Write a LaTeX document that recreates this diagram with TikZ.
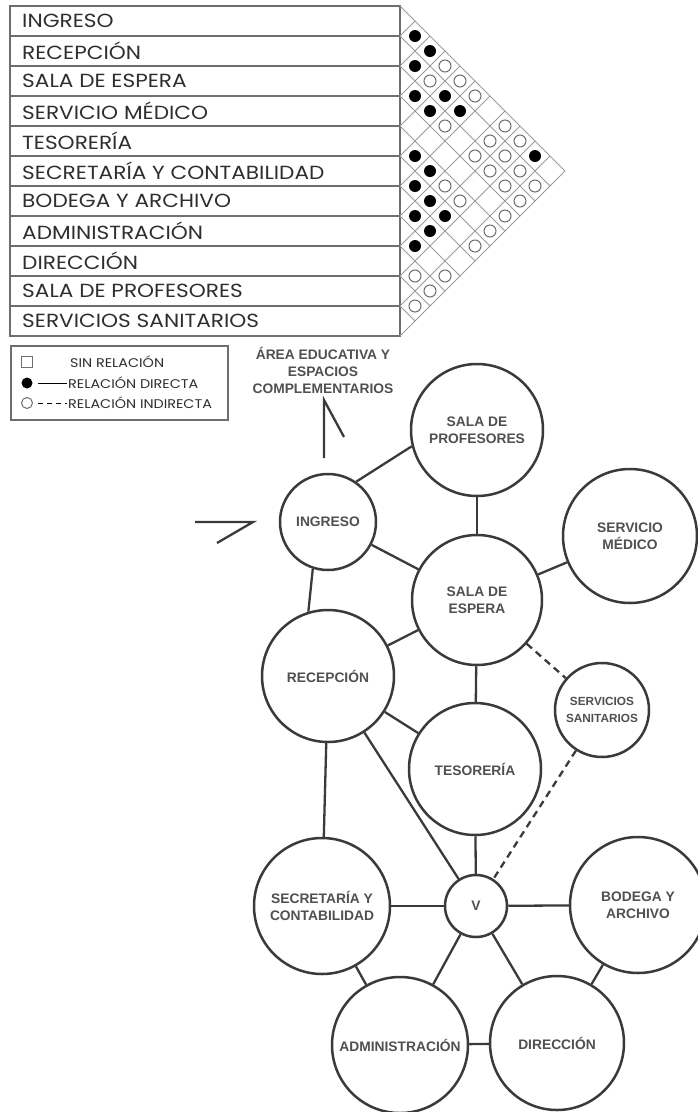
\documentclass[tikz,border=0pt]{standalone}
\usepackage{fontspec}
\newfontfamily\tablefont{Poppins}[FakeStretch=1.14]
\newfontfamily\bubblefont{Liberation Sans}
\definecolor{ink}{HTML}{3A3A3A}
\definecolor{rule}{HTML}{6E6E6E}
\definecolor{grid}{HTML}{9A9A9A}
\definecolor{label}{HTML}{2E2E2E}
\definecolor{bubbletext}{HTML}{505050}
\begin{document}
\begin{tikzpicture}[x=1pt,y=-1pt,
  rowlabel/.style={anchor=west, inner sep=0pt, text=label, font=\tablefont\fontsize{19}{22}\selectfont},
  legendtext/.style={anchor=west, inner sep=0pt, text=label, font=\tablefont\fontsize{12.6}{15}\selectfont},
  room/.style={circle, draw=ink, line width=2.5pt, inner sep=0pt, fill=white, text=bubbletext,
    align=center, font=\bubblefont\bfseries\fontsize{13.8}{17}\selectfont},
  smallroom/.style={room, font=\bubblefont\bfseries\fontsize{11.8}{17}\selectfont},
  link/.style={draw=ink, line width=2.3pt},
  ilink/.style={link, dash pattern=on 7pt off 5pt},
  fulldot/.style={fill=black},
  emptydot/.style={draw=rule, line width=1pt, fill=white}]

\useasboundingbox (0,0) rectangle (698,1112);

% ---- relation table: room names ----
\draw[rule, line width=1.2pt] (10,6) rectangle (400,336);
\foreach \k in {1,...,10} \draw[rule, line width=1.2pt] (10,6+30*\k) -- (400,6+30*\k);
\foreach \name [count=\k from 0] in {INGRESO, RECEPCIÓN, SALA DE ESPERA, SERVICIO MÉDICO, TESORERÍA,
    SECRETARÍA Y CONTABILIDAD, BODEGA Y ARCHIVO, ADMINISTRACIÓN, DIRECCIÓN, SALA DE PROFESORES,
    SERVICIOS SANITARIOS}
  \node[rowlabel] (row\k) at (22,{21+30*\k}) {\name};

% ---- relation triangle ----
\foreach \k in {0,...,11} {
  \draw[grid, line width=1pt] (400,{6+30*\k}) -- ({400+15*\k},{6+15*\k});
  \draw[grid, line width=1pt] (400,{6+30*\k}) -- ({565-15*\k},{171+15*\k});
}
\foreach \i/\j in {0/1,0/2,1/2,2/3,1/4,2/4,1/5,4/5,0/9,4/6,5/6,5/7,6/7,5/8,6/8,7/8}
  \fill[fulldot] ({400+15*(\j-\i)},{21+15*(\i+\j)}) circle (6);
\foreach \i/\j in {0/3,1/3,0/4,0/5,2/5,0/7,1/7,0/8,2/7,1/8,2/8,1/9,4/7,2/9,1/10,4/8,2/10,3/10,
    4/10,5/10,8/9,7/10,8/10,9/10}
  \draw[emptydot] ({400+15*(\j-\i)},{21+15*(\i+\j)}) circle (6);

% ---- legend ----
\draw[rule, line width=1.2pt] (11,346) rectangle (228,420);
\draw[rule, line width=1pt] (21.5,356.5) rectangle (32.5,367.5);
\node[legendtext] (lgnone) at (70,362) {SIN RELACIÓN};
\fill[fulldot] (27,383) circle (5.5);
\draw[label, line width=1pt] (38,383) -- (67,383);
\node[legendtext] (lgdirect) at (68,383) {RELACIÓN DIRECTA};
\draw[rule, line width=1pt] (27,403) circle (5.5);
\draw[label, line width=1pt, dash pattern=on 5pt off 4pt] (38,403) -- (67,403);
\node[legendtext] (lgindirect) at (68,403) {RELACIÓN INDIRECTA};

% ---- bubble diagram ----
\node[align=center, inner sep=0pt, text=bubbletext, font=\bubblefont\bfseries\fontsize{13.8}{17}\selectfont]
  (educ) at (323,370) {ÁREA EDUCATIVA Y\\ESPACIOS\\COMPLEMENTARIOS};

\node[room, minimum size=96pt]  (ingreso)    at (328,522)  {INGRESO};
\node[room, minimum size=132pt] (profesores) at (477,430)  {SALA DE\\PROFESORES};
\node[room, minimum size=134pt] (medico)     at (630,536)  {SERVICIO\\MÉDICO};
\node[room, minimum size=130pt] (espera)     at (477,600)  {SALA DE\\ESPERA};
\node[room, minimum size=132pt] (recepcion)  at (328,676)  {RECEPCIÓN};
\node[smallroom, minimum size=94pt] (sanitarios) at (602,710) {SERVICIOS\\SANITARIOS};
\node[room, minimum size=132pt] (tesoreria)  at (475,769)  {TESORERÍA};
\node[room, minimum size=62pt]  (v)          at (476,906)  {V};
\node[room, minimum size=136pt] (secretaria) at (322,906)  {SECRETARÍA Y\\CONTABILIDAD};
\node[room, minimum size=136pt] (bodega)     at (638,905)  {BODEGA Y\\ARCHIVO};
\node[room, minimum size=136pt] (admin)      at (400,1045) {ADMINISTRACIÓN};
\node[room, minimum size=134pt] (direccion)  at (557,1043) {DIRECCIÓN};

% direct relations
\draw[link] (ingreso.55) -- (profesores.194);
\draw[link] (ingreso) -- (espera);
\draw[link] (ingreso.252) -- (recepcion.107);
\draw[link] (profesores) -- (espera);
\draw[link] (espera) -- (medico);
\draw[link] (espera) -- (recepcion);
\draw[link] (espera) -- (tesoreria);
\draw[link] (recepcion) -- (tesoreria);
\draw[link] (recepcion) -- (secretaria);
\draw[link] (recepcion) -- (v);
\draw[link] (tesoreria) -- (v);
\draw[link] (secretaria) -- (v);
\draw[link] (v) -- (bodega);
\draw[link] (secretaria) -- (admin);
\draw[link] (v) -- (admin);
\draw[link] (v) -- (direccion);
\draw[link] (bodega) -- (direccion);
\draw[link] (admin) -- (direccion);
% indirect relations
\draw[ilink] (espera) -- (sanitarios);
\draw[ilink] (sanitarios) -- (v);

% access arrows
\coordinate (exitfoot) at (324,458);
\coordinate (exittip)  at (324,400);
\coordinate (exitbarb) at (344,437);
\draw[ink, line width=2.3pt, line join=miter] (exitfoot) -- (exittip) -- (exitbarb);
\coordinate (entrytail) at (195,522);
\coordinate (entrytip)  at (253,522);
\coordinate (entrybarb) at (217,543);
\draw[ink, line width=2.3pt, line join=miter] (entrytail) -- (entrytip) -- (entrybarb);
\end{tikzpicture}
\end{document}
